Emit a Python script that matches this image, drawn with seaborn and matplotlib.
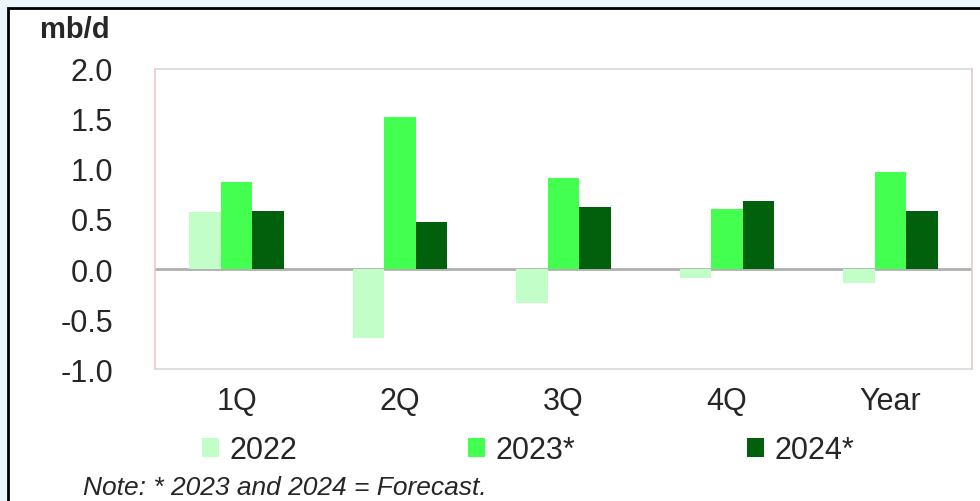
import matplotlib
matplotlib.use("Agg")
import matplotlib.pyplot as plt
import seaborn as sns
import pandas as pd
from matplotlib.patches import Rectangle

categories = ["1Q", "2Q", "3Q", "4Q", "Year"]
years = ["2022", "2023*", "2024*"]
v2022 = [0.57, -0.69, -0.34, -0.09, -0.14]
v2023 = [0.87, 1.52, 0.91, 0.60, 0.97]
v2024 = [0.58, 0.47, 0.62, 0.68, 0.58]
yticks = [-1.0, -0.5, 0.0, 0.5, 1.0, 1.5, 2.0]
colors = ["#c2ffc8", "#42ff50", "#00600c"]

rows = []
for series, vals in zip(years, [v2022, v2023, v2024]):
    for c, v in zip(categories, vals):
        rows.append({"cat": c, "year": series, "val": v})
df = pd.DataFrame(rows)

sns.set_theme(style="white")
plt.rcParams["font.family"] = ["Liberation Sans", "DejaVu Sans"]

fig = plt.figure(figsize=(9.8, 5.02), dpi=100)
fig.patch.set_facecolor("#eef4fc")
fig.patches.append(Rectangle((8/980, -0.1), 1.1, 1 - 9/502 + 0.1, transform=fig.transFigure,
                             facecolor="white", edgecolor="black", linewidth=2, zorder=-1))

ax = fig.add_axes([155/980, 1 - 370/502, (972-155)/980, 300/502])
sns.barplot(data=df, x="cat", y="val", hue="year", palette=colors, width=0.58,
            saturation=1, ax=ax, legend=True, linewidth=0, edgecolor="none")
ax.set_ylim(-1.0, 2.0)
ax.set_yticks(yticks)
ax.set_yticklabels([f"{t:.1f}" for t in yticks], fontsize=22)
ax.tick_params(axis="y", pad=30, length=0)
ax.tick_params(axis="x", pad=12, length=0, labelsize=22)
ax.set_xlabel("")
ax.set_ylabel("")
ax.axhline(0, color="#b0b0b0", linewidth=2, zorder=0.5)
for s in ax.spines.values():
    s.set_color("#e8c8c8")
    s.set_linewidth(1.2)
ax.spines["top"].set_color("#d8d8d8")
ax.spines["bottom"].set_color("#d8d8d8")

handles, labels = ax.get_legend_handles_labels()
ax.get_legend().remove()
fig.legend(handles, labels, loc="center", bbox_to_anchor=(528/980, 1 - 451/502), ncol=3,
           frameon=False, fontsize=22, handlelength=0.55, handleheight=0.6, handletextpad=0.35,
           columnspacing=5.6)

fig.text(40/980, 1 - 30/502, "mb/d", fontsize=21, fontweight="bold", va="center", ha="left")
fig.text(83/980, 1 - 488/502, "Note: * 2023 and 2024 = Forecast.", fontsize=19, style="italic",
         va="center", ha="left")

fig.savefig("out.png", dpi=100, facecolor=fig.get_facecolor())
